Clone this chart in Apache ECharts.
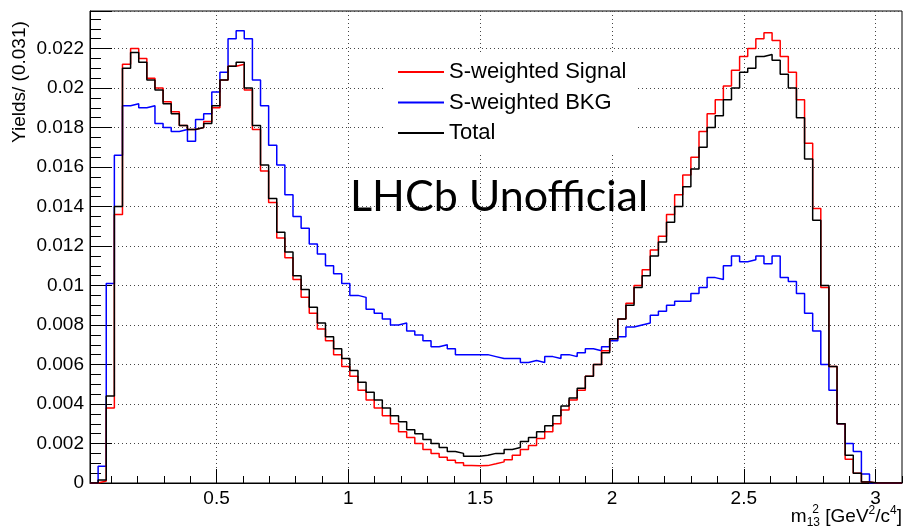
<!DOCTYPE html>
<html>
<head>
<meta charset="utf-8">
<script src="https://cdn.jsdelivr.net/npm/echarts@6/dist/echarts.min.js"></script>
<style>
  html, body { margin: 0; padding: 0; background: #fff; }
  #chart { width: 904px; height: 529px; }
</style>
</head>
<body>
<div id="chart"></div>
<script>
// binning: 100 bins of 0.0308 starting at 0.02
const X_MIN = 0.02
const X_MAX = 3.1
const BIN_W = 0.0308

const signal = [
  0, 0.0001, 0.0038, 0.0136, 0.0212, 0.0220, 0.0215, 0.0205, 0.0200, 0.0193,
  0.0188, 0.0181, 0.0179, 0.0180, 0.0183, 0.0190, 0.0204, 0.0211, 0.0212, 0.0199,
  0.0179, 0.0158, 0.0142, 0.0124, 0.0114, 0.0103, 0.0094, 0.0086, 0.0078, 0.0072,
  0.0065, 0.0059, 0.0054, 0.0047, 0.0042, 0.0038, 0.0034, 0.0030, 0.0026, 0.0023,
  0.0020, 0.0017, 0.0015, 0.0013, 0.00115, 0.00103, 0.00088, 0.00087, 0.00088, 0.00097,
  0.00107, 0.00118, 0.0014, 0.0017, 0.0019, 0.00225, 0.0026, 0.0030, 0.0037, 0.0042,
  0.0047, 0.0054, 0.0060, 0.0067, 0.0073, 0.0083, 0.0091, 0.0100, 0.0108, 0.0118,
  0.0125, 0.0136, 0.0146, 0.0156, 0.0165, 0.0178, 0.0187, 0.0194, 0.0201, 0.0209,
  0.0216, 0.0220, 0.0225, 0.0228, 0.0224, 0.0216, 0.0208, 0.0194, 0.0172, 0.0139,
  0.0099, 0.0059, 0.0030, 0.0012, 0.0005, 0.00005, 0, 0, 0, 0
]

const bkg = [
  0, 0.00085, 0.0101, 0.0166, 0.0191, 0.0192, 0.0190, 0.0191, 0.0182, 0.0180,
  0.0178, 0.0179, 0.0173, 0.0184, 0.0187, 0.0198, 0.0208, 0.0225, 0.0229, 0.0225,
  0.0204, 0.0191, 0.0171, 0.0161, 0.0146, 0.0135, 0.0129, 0.0121, 0.0116, 0.0110,
  0.0106, 0.0101, 0.0095, 0.0094, 0.0088, 0.0086, 0.0083, 0.0080, 0.0081, 0.0077,
  0.0075, 0.0072, 0.0069, 0.0070, 0.0068, 0.0065, 0.0065, 0.0065, 0.0065, 0.0064,
  0.0063, 0.0063, 0.0063, 0.0061, 0.0062, 0.0061, 0.0064, 0.0063, 0.0065, 0.0064,
  0.0066, 0.0068, 0.0067, 0.0069, 0.0072, 0.0074, 0.0079, 0.0080, 0.0081, 0.0085,
  0.0087, 0.0090, 0.0092, 0.0092, 0.0096, 0.0099, 0.0104, 0.0103, 0.0110, 0.0115,
  0.0112, 0.0113, 0.0115, 0.0111, 0.0115, 0.0104, 0.0102, 0.0096, 0.0086, 0.0077,
  0.0060, 0.0047, 0.0030, 0.0020, 0.0016, 0.00045, 0, 0, 0, 0
]

const total = [
  0, 0.00015, 0.0044, 0.0140, 0.0210, 0.0218, 0.0213, 0.0204, 0.0199, 0.0192,
  0.0187, 0.0181, 0.0179, 0.0180, 0.0182, 0.0191, 0.0204, 0.0211, 0.0213, 0.0200,
  0.0181, 0.0161, 0.0144, 0.0127, 0.0117, 0.0105, 0.0098, 0.0089, 0.0081, 0.0074,
  0.0068, 0.0063, 0.0057, 0.0051, 0.0046, 0.0042, 0.0038, 0.0034, 0.0031, 0.0027,
  0.0025, 0.0022, 0.0020, 0.0018, 0.0016, 0.0015, 0.00135, 0.00135, 0.0014, 0.0015,
  0.0015, 0.0017, 0.0018, 0.0021, 0.0023, 0.0026, 0.0029, 0.0034, 0.0039, 0.0043,
  0.0048, 0.0054, 0.0060, 0.0066, 0.0073, 0.0083, 0.0090, 0.0099, 0.0105, 0.0115,
  0.0122, 0.0132, 0.0140, 0.0150, 0.0159, 0.0170, 0.0180, 0.0186, 0.0194, 0.0200,
  0.0208, 0.0210, 0.0216, 0.0217, 0.0214, 0.0207, 0.0200, 0.0185, 0.0164, 0.0133,
  0.0100, 0.0059, 0.0030, 0.0014, 0.0005, 0.00005, 0, 0, 0, 0
]

const xMajorTicks = [0.5, 1, 1.5, 2, 2.5, 3]
const xMinorTicks = []
for (let i = 1; i <= 31; i++) {
  if (i % 5 !== 0) xMinorTicks.push(i / 10)
}

const FONT = 'Liberation Sans'

// histogram outline: each bin gives a flat segment from its low edge to its high edge
function histPoints(vals) {
  const pts = []
  vals.forEach((v, i) => {
    const lo = X_MIN + i * BIN_W
    pts.push([lo, v], [lo + BIN_W, v])
  })
  return pts
}

function histSeries(name, vals, color) {
  return {
    name: name,
    type: 'line',
    data: histPoints(vals),
    showSymbol: false,
    symbol: 'none',
    animation: false,
    lineStyle: { color: color, width: 1.5 },
    itemStyle: { color: color }
  }
}

const gridLine = { show: true, lineStyle: { color: '#444', width: 1, type: [1, 3] } }

const chart = echarts.init(document.getElementById('chart'))
chart.setOption({
  animation: false,
  grid: {
    left: 90, right: 2, top: 11, bottom: 46,
    show: true, borderColor: '#000', borderWidth: 1, backgroundColor: 'transparent'
  },
  xAxis: [
    {
      type: 'value',
      min: X_MIN,
      max: X_MAX,
      axisLine: { show: true, lineStyle: { color: '#000', width: 1 } },
      axisTick: { show: true, inside: true, length: 14, customValues: xMajorTicks, lineStyle: { color: '#000' } },
      axisLabel: { customValues: xMajorTicks, color: '#000', fontSize: 19, fontFamily: FONT, margin: 6 },
      splitLine: gridLine
    },
    {
      type: 'value',
      min: X_MIN,
      max: X_MAX,
      position: 'bottom',
      axisLine: { show: false },
      axisTick: { show: true, inside: true, length: 7, customValues: xMinorTicks, lineStyle: { color: '#000' } },
      axisLabel: { show: false },
      splitLine: { show: false }
    }
  ],
  yAxis: {
    type: 'value',
    min: 0,
    max: 0.0239,
    interval: 0.002,
    axisLine: { show: true, lineStyle: { color: '#000', width: 1 } },
    axisTick: { show: true, inside: true, length: 22, lineStyle: { color: '#000' } },
    minorTick: { show: true, splitNumber: 4, length: 11, lineStyle: { color: '#000' } },
    axisLabel: { color: '#000', fontSize: 19, fontFamily: FONT, margin: 6, showMaxLabel: false },
    splitLine: gridLine
  },
  legend: {
    orient: 'vertical',
    left: 386,
    top: 52,
    padding: [9, 10, 9, 12],
    backgroundColor: '#fff',
    itemWidth: 46,
    itemHeight: 2,
    itemGap: 8.5,
    icon: 'rect',
    textStyle: { color: '#000', fontSize: 22, lineHeight: 22, fontFamily: FONT },
    data: ['S-weighted Signal', 'S-weighted BKG', 'Total']
  },
  series: [
    histSeries('S-weighted BKG', bkg, '#0000ff'),
    histSeries('S-weighted Signal', signal, '#ff0000'),
    histSeries('Total', total, '#000000')
  ],
  graphic: [
    {
      type: 'text',
      x: 20,
      y: 143,
      rotation: Math.PI / 2,
      style: { text: 'Yields/ (0.031)', fill: '#000', fontSize: 19, fontFamily: FONT, align: 'left', verticalAlign: 'middle' }
    },
    {
      type: 'text',
      left: 350,
      top: 176,
      z: 10,
      style: { text: 'LHCb Unofficial', fill: '#000', fontSize: 43, fontFamily: 'Lato' }
    },
    {
      type: 'text',
      right: 2,
      top: 505,
      style: {
        text: 'm{sub|13} [GeV{sup|2}/c{sup|4}]',
        fill: '#000',
        fontSize: 19,
        lineHeight: 24,
        fontFamily: FONT,
        rich: {
          sub: { fontSize: 12, fontFamily: FONT, verticalAlign: 'bottom', lineHeight: 24 },
          sup: { fontSize: 12, fontFamily: FONT, verticalAlign: 'top', lineHeight: 24 }
        }
      }
    },
    {
      type: 'text',
      right: 85,
      top: 504,
      style: { text: '2', fill: '#000', fontSize: 12, fontFamily: FONT }
    }
  ]
})

window.addEventListener('resize', () => {
  chart.resize()
})
</script>
</body>
</html>
